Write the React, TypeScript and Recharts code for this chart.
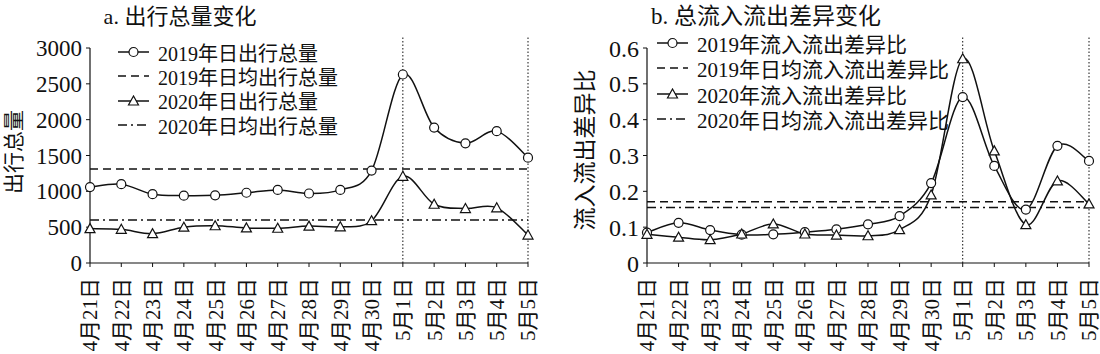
import { LineChart, Line, XAxis, YAxis, ReferenceLine } from 'recharts';

const INK = '#111';
const FONT = '"Liberation Serif", "Times New Roman", "Noto Sans CJK SC", serif';

const days = ['4月21日', '4月22日', '4月23日', '4月24日', '4月25日', '4月26日', '4月27日', '4月28日', '4月29日', '4月30日', '5月1日', '5月2日', '5月3日', '5月4日', '5月5日'];
const markedDays = ['5月1日', '5月5日'];

// a. 出行总量
const trips2019 = [1060, 1100, 960, 940, 945, 980, 1020, 970, 1020, 1290, 2630, 1890, 1670, 1840, 1470];
const trips2020 = [480, 470, 410, 500, 520, 490, 485, 515, 505, 590, 1210, 820, 760, 770, 390];
const tripAvg2019 = 1310;
const tripAvg2020 = 600;
const tripTicks = [0, 500, 1000, 1500, 2000, 2500, 3000];

// b. 流入流出差异比
const ratio2019 = [0.085, 0.112, 0.092, 0.079, 0.08, 0.086, 0.094, 0.108, 0.131, 0.223, 0.463, 0.271, 0.149, 0.327, 0.285];
const ratio2020 = [0.08, 0.072, 0.065, 0.081, 0.109, 0.081, 0.078, 0.076, 0.093, 0.19, 0.57, 0.313, 0.107, 0.229, 0.165];
const ratioAvg2019 = 0.171;
const ratioAvg2020 = 0.155;
const ratioTicks = [0, 0.1, 0.2, 0.3, 0.4, 0.5, 0.6];

const tripLegend = ['2019年日出行总量', '2019年日均出行总量', '2020年日出行总量', '2020年日均出行总量'];
const ratioLegend = ['2019年流入流出差异比', '2019年日均流入流出差异比', '2020年流入流出差异比', '2020年日均流入流出差异比'];

const tripData = days.map((day, i) => ({ day, y2019: trips2019[i], y2020: trips2020[i] }));
const ratioData = days.map((day, i) => ({ day, y2019: ratio2019[i], y2020: ratio2020[i] }));

const DASH = '8 5';
const DASHDOT = '9 4 2 4';

// excel-like smoothed line (catmull-rom through the points)
const smoothCurve = (context: any) => {
  let pts: number[][] = [];
  return {
    areaStart() {},
    areaEnd() {},
    lineStart() { pts = []; },
    point(x: number, y: number) { pts.push([+x, +y]); },
    lineEnd() {
      if (!pts.length) return;
      context.moveTo(pts[0][0], pts[0][1]);
      for (let i = 0; i < pts.length - 1; i++) {
        const p0 = pts[Math.max(i - 1, 0)];
        const p1 = pts[i];
        const p2 = pts[i + 1];
        const p3 = pts[Math.min(i + 2, pts.length - 1)];
        context.bezierCurveTo(
          p1[0] + (p2[0] - p0[0]) / 6, p1[1] + (p2[1] - p0[1]) / 6,
          p2[0] - (p3[0] - p1[0]) / 6, p2[1] - (p3[1] - p1[1]) / 6,
          p2[0], p2[1]
        );
      }
    },
  };
};

const CircleDot = (p: any) => (
  <circle key={`c${p.index}`} cx={p.cx} cy={p.cy} r={4.5} fill="#fff" stroke={INK} strokeWidth={1.2} />
);
const TriangleDot = (p: any) => (
  <polygon key={`t${p.index}`} points={`${p.cx},${p.cy - 5} ${p.cx - 5},${p.cy + 4} ${p.cx + 5},${p.cy + 4}`} fill="#fff" stroke={INK} strokeWidth={1.2} />
);

const DayTick = ({ x, y, payload }: any) => (
  <text transform={`translate(${x},${y + 9}) rotate(-90)`} textAnchor="end" dy="0.35em" fontSize={21} fill={INK} fontFamily={FONT}>
    {payload.value}
  </text>
);

function LegendBox({ labels, left, top, gap, fontSize }: { labels: string[]; left: number; top: number; gap: number; fontSize: number }) {
  const styles = [
    { dash: undefined, dot: 'c' },
    { dash: DASH, dot: '' },
    { dash: undefined, dot: 't' },
    { dash: DASHDOT, dot: '' },
  ];
  return (
    <div style={{ position: 'absolute', left, top, fontFamily: FONT, fontSize, color: INK }}>
      {labels.map((label, i) => (
        <div key={label} style={{ display: 'flex', alignItems: 'center', height: gap, whiteSpace: 'nowrap' }}>
          <svg width={31} height={12} style={{ flex: 'none' }}>
            <line x1={0} y1={6} x2={31} y2={6} stroke={INK} strokeWidth={1.5} strokeDasharray={styles[i].dash} />
            {styles[i].dot === 'c' && <circle cx={15.5} cy={6} r={4.5} fill="#fff" stroke={INK} strokeWidth={1.2} />}
            {styles[i].dot === 't' && <polygon points="15.5,1 10.5,10 20.5,10" fill="#fff" stroke={INK} strokeWidth={1.2} />}
          </svg>
          <span style={{ marginLeft: 9 }}>{label}</span>
        </div>
      ))}
    </div>
  );
}

function Title({ text, cx, cy, fontSize }: { text: string; cx: number; cy: number; fontSize: number }) {
  return (
    <div style={{ position: 'absolute', left: cx, top: cy, transform: 'translate(-50%,-50%)', fontFamily: FONT, fontSize, color: INK, whiteSpace: 'nowrap' }}>
      {text}
    </div>
  );
}

function SideLabel({ text, cx, cy, fontSize }: { text: string; cx: number; cy: number; fontSize: number }) {
  return (
    <div style={{ position: 'absolute', left: cx, top: cy, transform: 'translate(-50%,-50%) rotate(-90deg)', fontFamily: FONT, fontSize, color: INK, whiteSpace: 'nowrap' }}>
      {text}
    </div>
  );
}

function Panel({ data, ticks, top, avg2019, avg2020, tickFont, marginLeft, marginRight }: any) {
  const max = ticks[ticks.length - 1];
  return (
    <LineChart width={550} height={354} data={data} margin={{ top: 48, right: marginRight, bottom: 0, left: marginLeft }}>
      <XAxis
        dataKey="day"
        interval={0}
        height={91}
        tickSize={4}
        tick={<DayTick />}
        axisLine={{ stroke: INK, strokeWidth: 1.2 }}
        tickLine={{ stroke: INK }}
      />
      <YAxis
        width={60}
        domain={[0, max]}
        ticks={ticks}
        tickSize={4}
        tickMargin={4}
        axisLine={{ stroke: INK, strokeWidth: 1.2 }}
        tickLine={{ stroke: INK }}
        tick={{ fill: INK, fontSize: tickFont, fontFamily: FONT }}
      />
      {markedDays.map((d) => (
        <ReferenceLine
          key={d}
          segment={[{ x: d, y: 0 }, { x: d, y: top }]}
          ifOverflow="visible"
          stroke={INK}
          strokeWidth={1}
          strokeDasharray="1.5 2"
        />
      ))}
      <ReferenceLine y={avg2019} stroke={INK} strokeWidth={1.5} strokeDasharray={DASH} />
      <ReferenceLine y={avg2020} stroke={INK} strokeWidth={1.5} strokeDasharray={DASHDOT} />
      <Line dataKey="y2019" type={smoothCurve as any} stroke={INK} strokeWidth={1.5} dot={CircleDot} activeDot={false} isAnimationActive={false} />
      <Line dataKey="y2020" type={smoothCurve as any} stroke={INK} strokeWidth={1.5} dot={TriangleDot} activeDot={false} isAnimationActive={false} />
    </LineChart>
  );
}

export default function App() {
  return (
    <div style={{ position: 'absolute', left: 0, top: 0, width: 1100, height: 354, background: '#fff', overflow: 'hidden' }}>
      <div style={{ position: 'absolute', left: 0, top: 0 }}>
        <Panel data={tripData} ticks={tripTicks} top={3167} avg2019={tripAvg2019} avg2020={tripAvg2020} tickFont={23} marginLeft={30} marginRight={22} />
      </div>
      <div style={{ position: 'absolute', left: 550, top: 0 }}>
        <Panel data={ratioData} ticks={ratioTicks} top={0.6335} avg2019={ratioAvg2019} avg2020={ratioAvg2020} tickFont={24} marginLeft={37} marginRight={11} />
      </div>
      <Title text="a. 出行总量变化" cx={180} cy={14} fontSize={22} />
      <Title text="b. 总流入流出差异变化" cx={766} cy={14} fontSize={23} />
      <SideLabel text="出行总量" cx={12} cy={152} fontSize={21} />
      <SideLabel text="流入流出差异比" cx={583} cy={150} fontSize={23} />
      <LegendBox labels={tripLegend} left={118} top={40} gap={24.3} fontSize={20} />
      <LegendBox labels={ratioLegend} left={657} top={30.5} gap={25.3} fontSize={21} />
    </div>
  );
}
